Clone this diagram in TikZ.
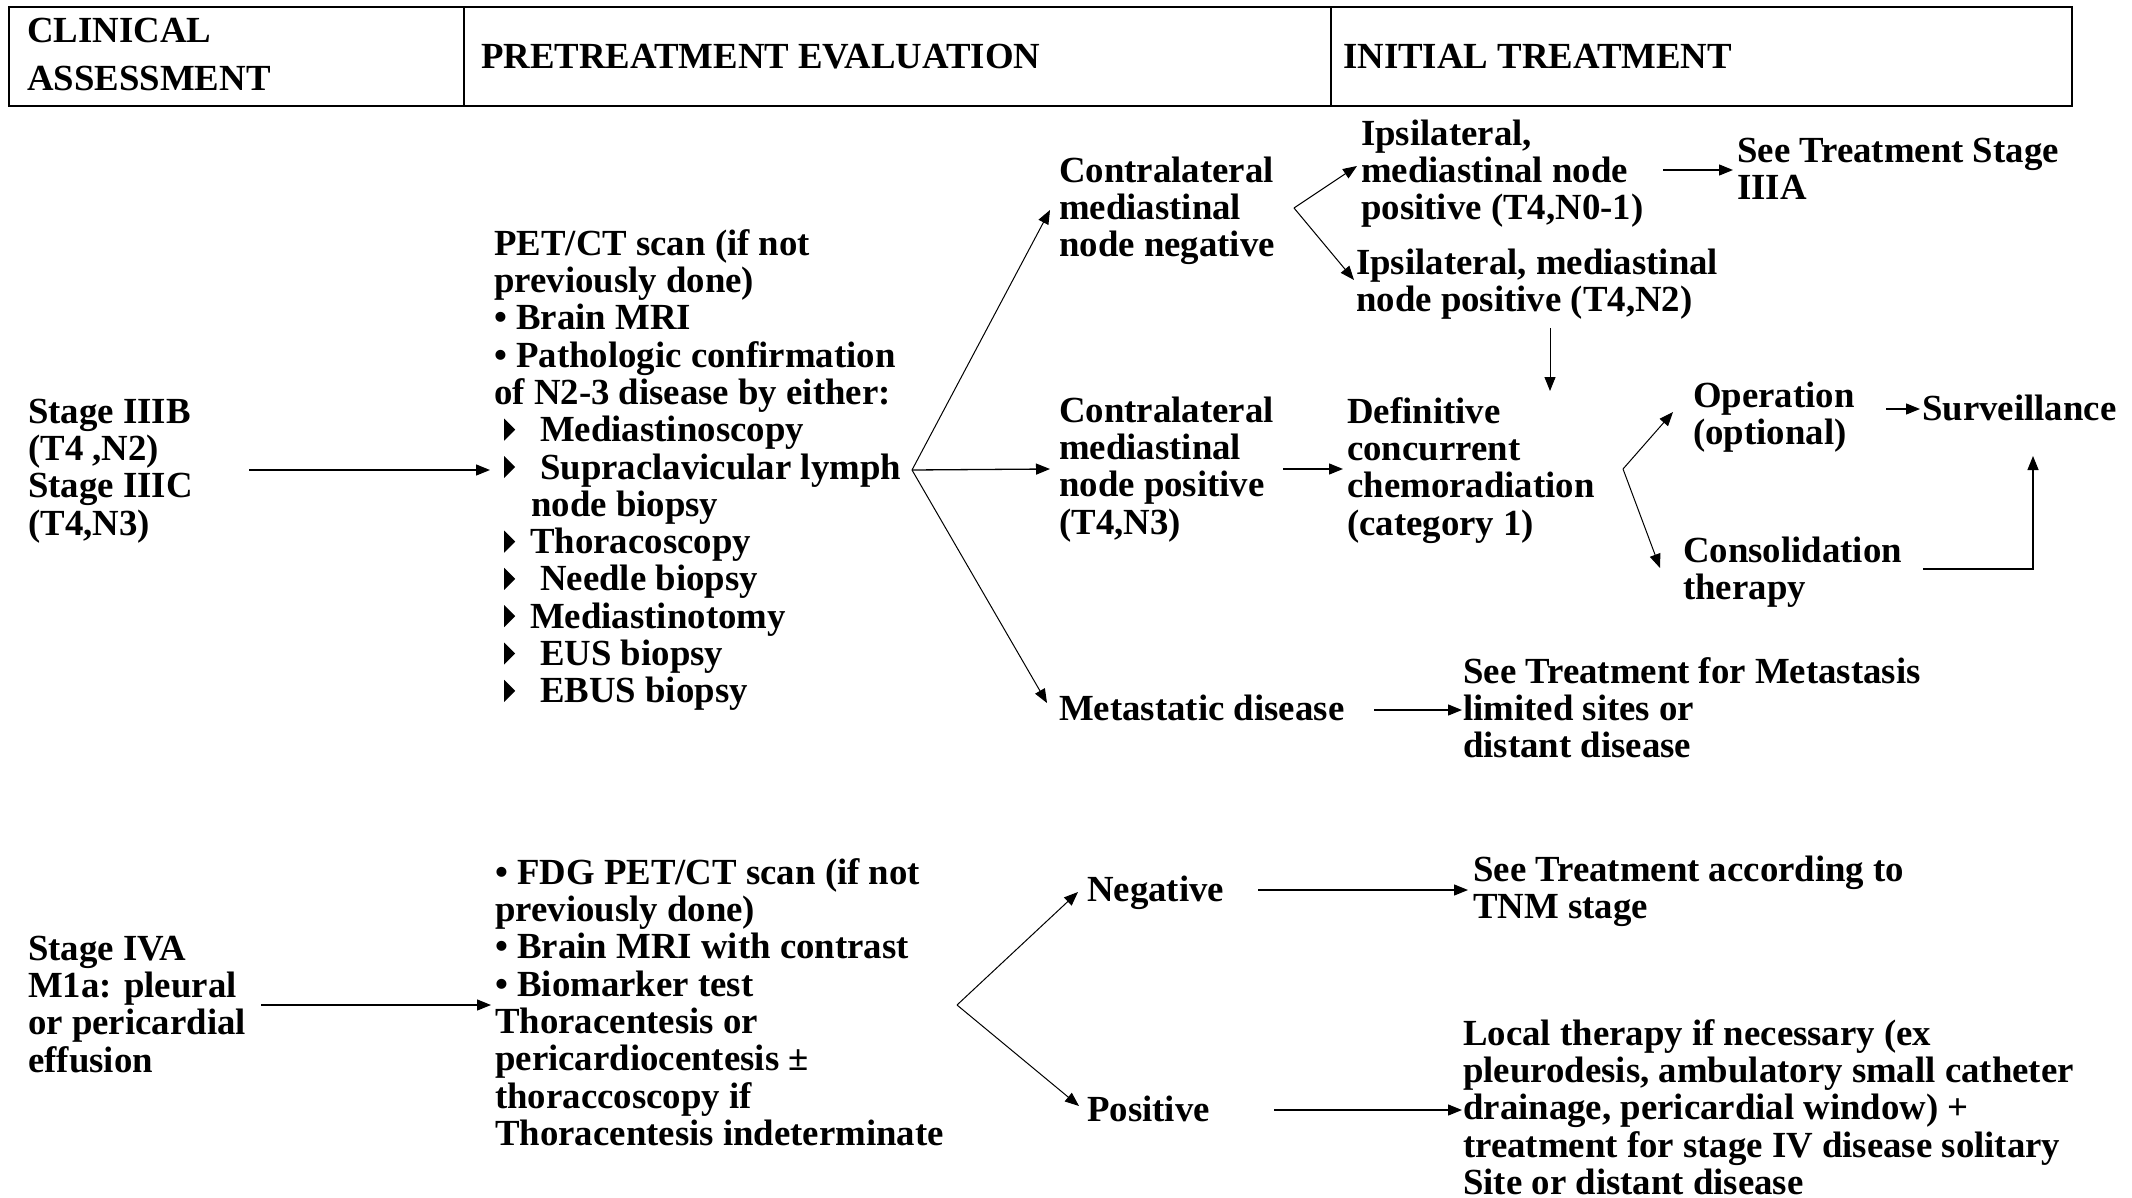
\documentclass[tikz,border=0pt]{standalone}
\usepackage{fontspec}
\setmainfont{Liberation Serif}
\usetikzlibrary{arrows.meta,calc}

% first-line strut: fixes the distance from a node's top to its first baseline
\newcommand\fs{\rule{0pt}{27pt}}
% small black pointer used in the list of procedures
\newcommand\tri{\tikz[baseline=0pt]\fill (0pt,1pt)--(11pt,12pt)--(0pt,23pt)--cycle;}

\tikzset{
  txt/.style={font=\bfseries\fontsize{36.8}{37.3}\selectfont, align=left,
              inner sep=0pt, anchor=north west},
  head/.style={font=\bfseries\fontsize{36.8}{48}\selectfont, align=left,
              inner sep=0pt, anchor=north west},
  arr/.style={-{Triangle[length=14pt,width=11pt]}, line width=1.3pt},
  fan/.style={-{Triangle[length=14pt,width=11pt]}, line width=1pt},
}

\begin{document}
\begin{tikzpicture}[x=1pt,y=-1pt]
\useasboundingbox (0,0) rectangle (2132,1198);

% ---- column headings
\draw[line width=2.5pt] (9,7) rectangle (2072,106);
\draw[line width=2pt] (464,7) -- (464,106);
\draw[line width=2pt] (1331,7) -- (1331,106);
\node[head] (hclin) at (27,15) {\fs CLINICAL\\ASSESSMENT};
\node[head] (hpre)  at (481,41) {\fs PRETREATMENT EVALUATION};
\node[head] (hinit) at (1343,41) {\fs INITIAL TREATMENT};

% ---- stage IIIB / IIIC branch
\node[txt] (stageB) at (28,396) {\fs Stage IIIB\\(T4 ,N2)\\Stage IIIC\\(T4,N3)};
\node[txt] (pet) at (494,228) {\fs PET/CT scan (if not\\previously done)\\%
• Brain MRI\\• Pathologic confirmation\\of N2-3 disease by either:\\%
\hspace*{10pt}\tri\hspace*{25pt}Mediastinoscopy\\%
\hspace*{10pt}\tri\hspace*{25pt}Supraclavicular lymph\\%
\hspace*{37pt}node biopsy\\%
\hspace*{10pt}\tri\hspace*{15pt}Thoracoscopy\\%
\hspace*{10pt}\tri\hspace*{25pt}Needle biopsy\\%
\hspace*{10pt}\tri\hspace*{15pt}Mediastinotomy\\%
\hspace*{10pt}\tri\hspace*{25pt}EUS biopsy\\%
\hspace*{10pt}\tri\hspace*{25pt}EBUS biopsy};

\node[txt] (cneg) at (1059,155) {\fs Contralateral\\mediastinal\\node negative};
\node[txt] (cpos) at (1059,395) {\fs Contralateral\\mediastinal\\node positive\\(T4,N3)};
\node[txt] (meta) at (1059,693) {\fs Metastatic disease};

\node[txt] (ipsi1) at (1361,118) {\fs Ipsilateral,\\mediastinal node\\positive (T4,N0-1)};
\node[txt] (see3a) at (1737,135) {\fs See Treatment Stage\\IIIA};
\node[txt] (ipsi2) at (1356,247) {\fs Ipsilateral, mediastinal\\node positive (T4,N2)};

\node[txt] (defin) at (1347,396) {\fs Definitive\\concurrent\\chemoradiation\\(category 1)};
\node[txt] (oper) at (1693,380) {\fs Operation\\(optional)};
\node[txt] (surv) at (1922,393) {\fs Surveillance};
\node[txt] (consol) at (1683,535) {\fs Consolidation\\therapy};

\node[txt] (seemeta) at (1463,656) {\fs See Treatment for Metastasis\\limited sites or\\distant disease};

% ---- stage IVA branch
\node[txt] (stage4) at (28,933) {\fs Stage IVA\\M1a: pleural\\or pericardial\\effusion};
\node[txt] (fdg) at (495,857) {\fs • FDG PET/CT scan (if not\\previously done)\\%
• Brain MRI with contrast\\• Biomarker test\\Thoracentesis or\\%
pericardiocentesis ±\\thoraccoscopy if\\Thoracentesis indeterminate};
\node[txt] (neg) at (1087,874) {\fs Negative};
\node[txt] (pos) at (1087,1094) {\fs Positive};
\node[txt] (seetnm) at (1473,854) {\fs See Treatment according to\\TNM stage};
\node[txt] (local) at (1463,1018) {\fs Local therapy if necessary (ex\\%
pleurodesis, ambulatory small catheter\\drainage, pericardial window) +\\%
treatment for stage IV disease solitary\\Site or distant disease};

% ---- branching points
\coordinate (j1) at ($(pet.north west)+(418,242)$);
\coordinate (j2) at ($(cneg.north west)+(235,53)$);
\coordinate (j3) at ($(defin.north west)+(276,73)$);
\coordinate (j4) at ($(fdg.north west)+(462,148)$);

% ---- connectors
\draw[arr] ($(stageB.north west)+(221,74)$) -- ($(pet.north west)+(-4,242)$);
\draw[fan] (j1) -- ($(cneg.north west)+(-9,55)$);
\draw[arr] (j1) -- ($(cpos.north west)+(-9,74)$);
\draw[fan] (j1) -- ($(meta.north west)+(-12,10)$);

\draw[fan] (j2) -- ($(ipsi1.north west)+(-4,48)$);
\draw[fan] (j2) -- ($(ipsi2.north west)+(-2,33)$);
\draw[arr] ($(ipsi1.north west)+(302,52)$) -- ($(see3a.north west)+(-4,35)$);
\draw[fan] ($(ipsi2.north west)+(194,81)$) -- ($(defin.north west)+(203,-5)$);
\draw[arr] ($(cpos.north west)+(224,74)$) -- ($(defin.north west)+(-4,73)$);

\draw[fan] (j3) -- ($(oper.north west)+(-20,32)$);
\draw[fan] (j3) -- ($(consol.north west)+(-23,33)$);
\draw[arr] ($(oper.north west)+(193,29)$) -- ($(surv.north west)+(-2,16)$);
\draw[arr] ($(consol.north west)+(240,34)$) -| ($(surv.north west)+(111,63)$);

\draw[arr] ($(meta.north west)+(315,17)$) -- ($(seemeta.north west)+(-1,54)$);

\draw[arr] ($(stage4.north west)+(233,72)$) -- ($(fdg.north west)+(-4,148)$);
\draw[fan] (j4) -- ($(neg.north west)+(-9,18)$);
\draw[fan] (j4) -- ($(pos.north west)+(-8,12)$);
\draw[arr] ($(neg.north west)+(171,16)$) -- ($(seetnm.north west)+(-5,36)$);
\draw[arr] ($(pos.north west)+(187,16)$) -- ($(local.north west)+(-1,92)$);
\end{tikzpicture}
\end{document}
